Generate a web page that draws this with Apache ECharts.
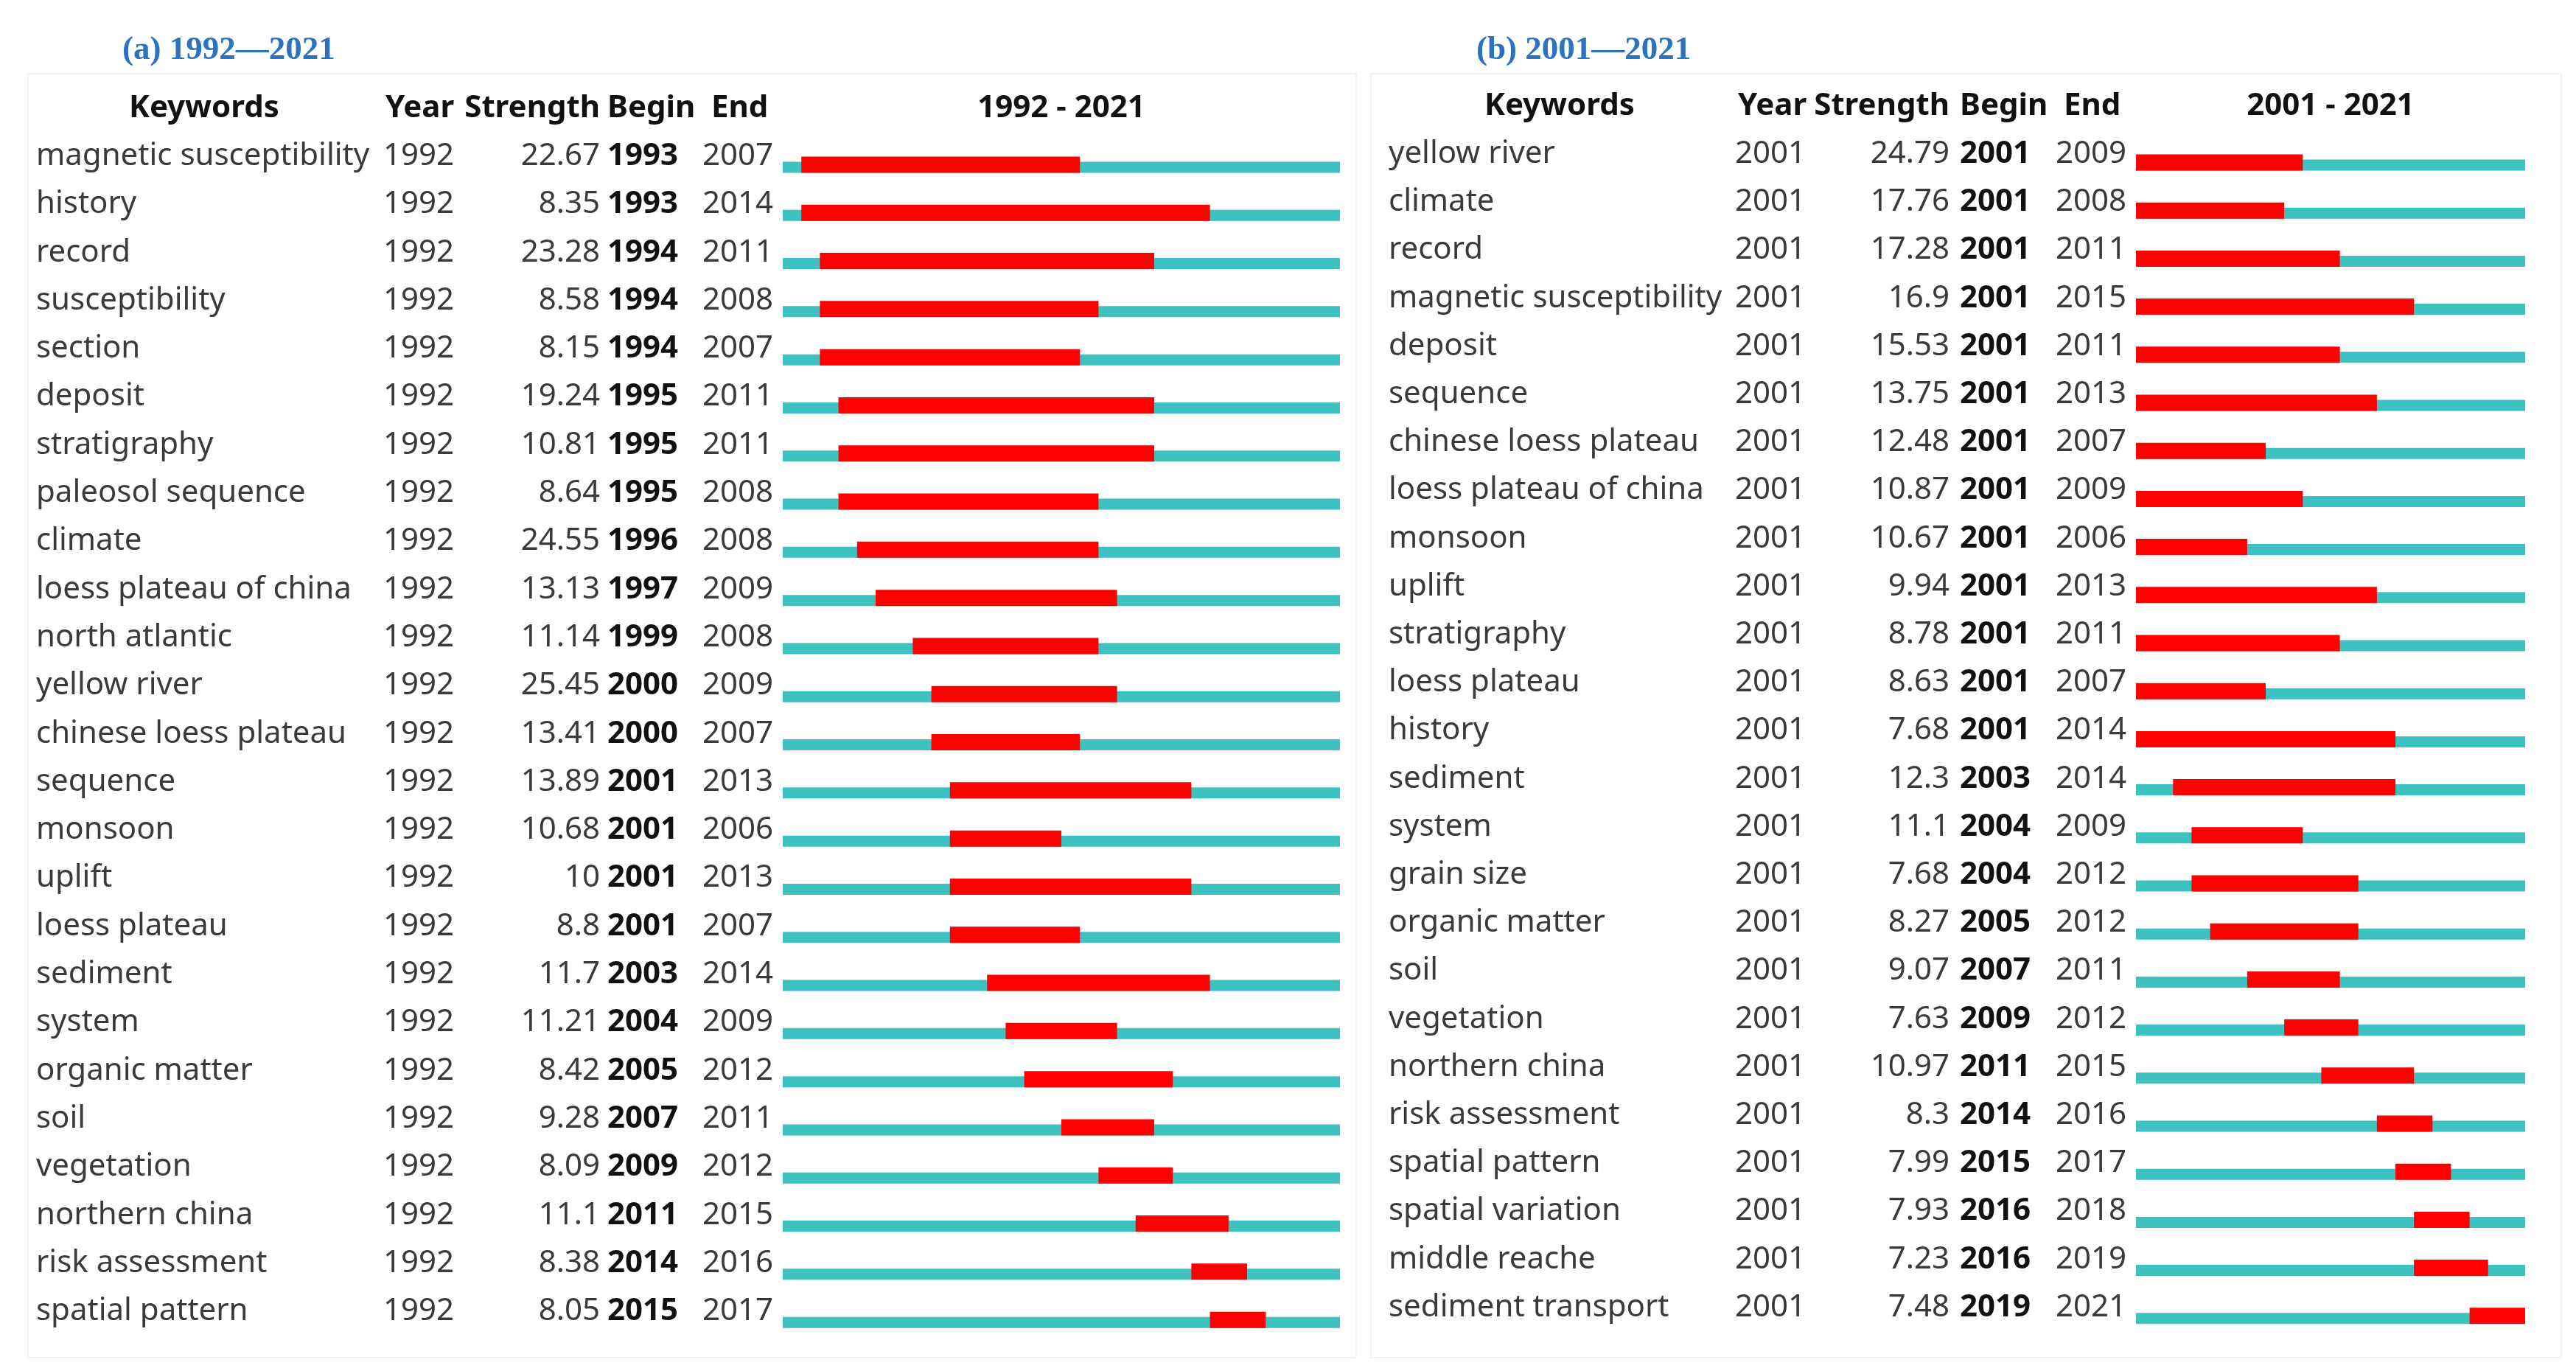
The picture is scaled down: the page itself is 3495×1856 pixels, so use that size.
<!DOCTYPE html>
<html><head><meta charset="utf-8">
<script src="https://cdn.jsdelivr.net/npm/echarts@6/dist/echarts.min.js"></script>
<style>html,body{margin:0;padding:0;background:#fff}#c{width:3495px;height:1856px}</style>
</head><body><div id="c"></div>
<script>
// ---------- data ----------
const headerLabels = ['Keywords', 'Year', 'Strength', 'Begin', 'End'];

const titleA = '(a) 1992\u20142021';
const rangeA = [1992, 2021];
const keywordsA = ['magnetic susceptibility','history','record','susceptibility','section','deposit','stratigraphy','paleosol sequence','climate','loess plateau of china','north atlantic','yellow river','chinese loess plateau','sequence','monsoon','uplift','loess plateau','sediment','system','organic matter','soil','vegetation','northern china','risk assessment','spatial pattern'];
const yearA = [1992,1992,1992,1992,1992,1992,1992,1992,1992,1992,1992,1992,1992,1992,1992,1992,1992,1992,1992,1992,1992,1992,1992,1992,1992];
const strengthA = [22.67,8.35,23.28,8.58,8.15,19.24,10.81,8.64,24.55,13.13,11.14,25.45,13.41,13.89,10.68,10,8.8,11.7,11.21,8.42,9.28,8.09,11.1,8.38,8.05];
const beginA = [1993,1993,1994,1994,1994,1995,1995,1995,1996,1997,1999,2000,2000,2001,2001,2001,2001,2003,2004,2005,2007,2009,2011,2014,2015];
const endA = [2007,2014,2011,2008,2007,2011,2011,2008,2008,2009,2008,2009,2007,2013,2006,2013,2007,2014,2009,2012,2011,2012,2015,2016,2017];

const titleB = '(b) 2001\u20142021';
const rangeB = [2001, 2021];
const keywordsB = ['yellow river','climate','record','magnetic susceptibility','deposit','sequence','chinese loess plateau','loess plateau of china','monsoon','uplift','stratigraphy','loess plateau','history','sediment','system','grain size','organic matter','soil','vegetation','northern china','risk assessment','spatial pattern','spatial variation','middle reache','sediment transport'];
const yearB = [2001,2001,2001,2001,2001,2001,2001,2001,2001,2001,2001,2001,2001,2001,2001,2001,2001,2001,2001,2001,2001,2001,2001,2001,2001];
const strengthB = [24.79,17.76,17.28,16.9,15.53,13.75,12.48,10.87,10.67,9.94,8.78,8.63,7.68,12.3,11.1,7.68,8.27,9.07,7.63,10.97,8.3,7.99,7.93,7.23,7.48];
const beginB = [2001,2001,2001,2001,2001,2001,2001,2001,2001,2001,2001,2001,2001,2003,2004,2004,2005,2007,2009,2011,2014,2015,2016,2016,2019];
const endB = [2009,2008,2011,2015,2011,2013,2007,2009,2006,2013,2011,2007,2014,2014,2009,2012,2012,2011,2012,2015,2016,2017,2018,2019,2021];

// ---------- styling ----------
const FONT = 'Noto Sans';
const FS = 42;
const TEAL = '#3EC1C1';
const RED = '#FF0000';

function panel(gi, kw, yr, st, bg, en, range, L) {
  const columns = [kw, yr, st, bg, en];
  const aligns = ['left', 'left', 'right', 'left', 'left'];
  const boldCol = [false, false, false, true, false];
  const grid = { left: L.left, top: L.top, width: L.width, height: L.rowH * (kw.length + 1) };
  const xAxis = { type: 'value', gridIndex: gi, min: range[0], max: range[1] + 1, show: false };
  const yAxes = columns.map(function (col, c) {
    const isBold = boldCol[c];
    return {
      type: 'category', gridIndex: gi, inverse: true, position: 'left',
      offset: L.left - L.anchors[c],
      data: [''].concat(kw),
      axisLine: { show: false }, axisTick: { show: false }, splitLine: { show: false },
      axisLabel: {
        interval: 0, margin: 0, align: aligns[c], padding: [0, 0, 30, 0],
        fontFamily: FONT, fontSize: FS,
        fontWeight: isBold ? 'bold' : 'normal',
        color: isBold ? '#111' : '#3a3a3a',
        formatter: function (v, i) {
          if (i === 0) return '{h|' + headerLabels[c] + '}';
          return String(col[i - 1]);
        },
        rich: {
          h: { fontFamily: FONT, fontSize: FS, fontWeight: 'bold', color: '#111',
               padding: [0, 0, 0, L.headPad[c]] }
        }
      }
    };
  });
  const yIdx = gi * columns.length;
  const bars = {
    type: 'custom', xAxisIndex: gi, yAxisIndex: yIdx,
    encode: { x: [1, 2], y: 0 },
    data: kw.map((k, i) => [i + 1, bg[i], en[i]]),
    renderItem: function (params, api) {
      const row = api.value(0);
      const pS = api.coord([range[0], row]);
      const pE = api.coord([range[1] + 1, row]);
      const pb = api.coord([api.value(1), row]);
      const pe = api.coord([api.value(2) + 1, row]);
      const cy = pS[1];
      return {
        type: 'group', children: [
          { type: 'rect', shape: { x: pS[0], y: cy - 7.5, width: pE[0] - pS[0], height: 15 }, style: { fill: TEAL } },
          { type: 'rect', shape: { x: pb[0], y: cy + 7.5 - 22, width: pe[0] - pb[0], height: 22 }, style: { fill: RED } }
        ]
      };
    }
  };
  const head = {
    type: 'custom', xAxisIndex: gi, yAxisIndex: yIdx,
    encode: { x: 1, y: 0 },
    data: [[0, range[0]]],
    renderItem: function (params, api) {
      const p0 = api.coord([range[0], 0]);
      const p1 = api.coord([range[1] + 1, 0]);
      return {
        type: 'text', x: (p0[0] + p1[0]) / 2, y: p0[1] - 15,
        style: { text: range[0] + ' - ' + range[1], fontFamily: FONT, fontSize: FS, fontWeight: 'bold',
                 fill: '#111', align: 'center', verticalAlign: 'middle' }
      };
    }
  };
  return { grid, xAxis, yAxes, series: [bars, head] };
}

const pA = panel(0, keywordsA, yearA, strengthA, beginA, endA, rangeA,
  { left: 1062, top: 129, width: 756, rowH: 65.3,
    anchors: [49, 520, 814, 824, 953], headPad: [126, 3, 0, 0, 12] });
const pB = panel(1, keywordsB, yearB, strengthB, beginB, endB, rangeB,
  { left: 2898, top: 126.2, width: 528, rowH: 65.2,
    anchors: [1884, 2354, 2645, 2659, 2789], headPad: [130, 4, 0, 0, 11] });

const titleStyle = { fontFamily: 'Liberation Serif', fontSize: 45, fontWeight: 'bold', color: '#2B72C0' };

const option = {
  backgroundColor: '#fff',
  animation: false,
  title: [
    { text: titleA, left: 166, top: 46, padding: 0, textStyle: titleStyle },
    { text: titleB, left: 2003, top: 46, padding: 0, textStyle: titleStyle }
  ],
  graphic: [
    { type: 'rect', shape: { x: 38, y: 100, width: 1802, height: 1742 }, style: { fill: 'none', stroke: '#f3f3f3', lineWidth: 2 }, z: -1 },
    { type: 'rect', shape: { x: 1860, y: 100, width: 1615, height: 1742 }, style: { fill: 'none', stroke: '#f3f3f3', lineWidth: 2 }, z: -1 }
  ],
  grid: [pA.grid, pB.grid],
  xAxis: [pA.xAxis, pB.xAxis],
  yAxis: pA.yAxes.concat(pB.yAxes),
  series: pA.series.concat(pB.series)
};

const chart = echarts.init(document.getElementById('c'));
chart.setOption(option);
</script>
</body></html>
